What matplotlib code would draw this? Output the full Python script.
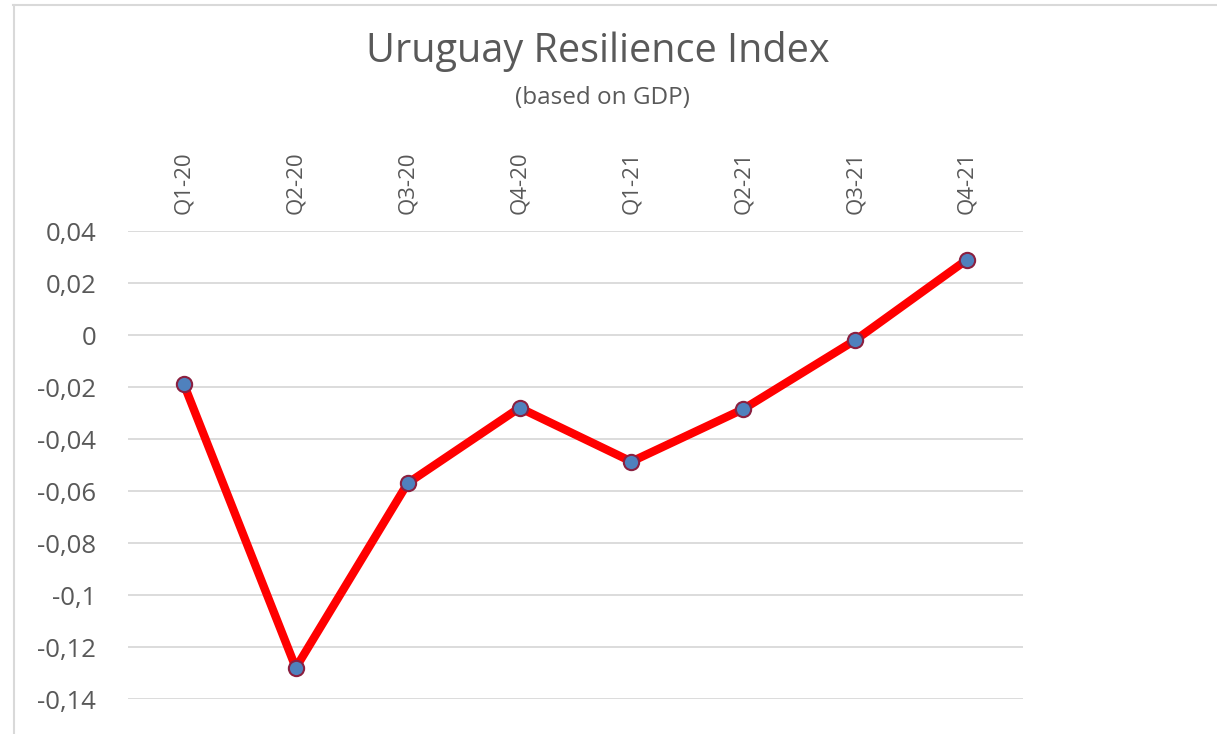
import matplotlib
matplotlib.use("Agg")
from matplotlib import pyplot as plt
from matplotlib.ticker import FuncFormatter

quarters = ["Q1-20", "Q2-20", "Q3-20", "Q4-20", "Q1-21", "Q2-21", "Q3-21", "Q4-21"]
index_values = [-0.019, -0.128, -0.057, -0.028, -0.0487, -0.0285, -0.002, 0.029]
y_ticks = [0.04, 0.02, 0, -0.02, -0.04, -0.06, -0.08, -0.1, -0.12, -0.14]

text_color = "#595959"
plt.rcParams['font.family'] = ['Open Sans', 'DejaVu Sans']

fig = plt.figure(figsize=(12.17, 7.34), dpi=100)
ax = fig.add_axes([128/1217, 1-699/734, (1023-128)/1217, (699-231)/734])

x = range(len(quarters))
ax.plot(x, index_values, color="#ff0000", linewidth=6, solid_capstyle="round",
        marker="o", markersize=11, markerfacecolor="#4f81bd",
        markeredgecolor="#8b2040", markeredgewidth=1.5, zorder=3)

ax.set_xlim(-0.5, len(quarters) - 0.5)
ax.set_ylim(-0.14, 0.04)
ax.set_yticks(y_ticks)
ax.yaxis.set_major_formatter(FuncFormatter(lambda v, p: ("%g" % round(v, 2)).replace(".", ",")))
ax.set_xticks(list(x))
ax.set_xticklabels(quarters, rotation=90)
ax.xaxis.tick_top()
ax.tick_params(axis="x", length=0, pad=12, labelsize=16, colors=text_color)
ax.tick_params(axis="y", length=0, pad=23, labelsize=18.5, colors=text_color)
ax.grid(axis="y", color="#d9d9d9", linewidth=1.3)
ax.set_axisbelow(True)
for s in ax.spines.values():
    s.set_visible(False)

fig.text(598/1217, 1-52/734, "Uruguay Resilience Index", ha="center", va="center",
         fontsize=28.5, color=text_color)
fig.text(602/1217, 1-98/734, "(based on GDP)", ha="center", va="center",
         fontsize=17.5, color=text_color)

# frame lines at top and left of the screenshot
fig.add_artist(plt.Line2D([13/1217, 1], [1-5/734, 1-5/734], color="#d9d9d9", linewidth=1.5))
fig.add_artist(plt.Line2D([14/1217, 14/1217], [0, 1-5/734], color="#d9d9d9", linewidth=1.5))

plt.savefig("out.png")
